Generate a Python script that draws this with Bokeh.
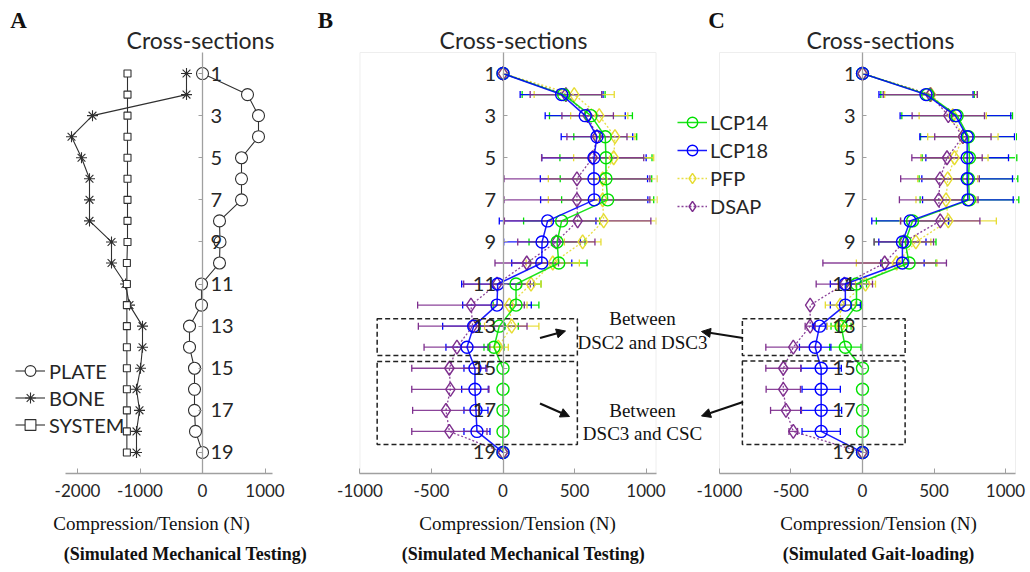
import numpy as np
from bokeh.plotting import figure
from bokeh.models import (Range1d, LinearAxis, FixedTicker, ColumnDataSource, Whisker,
                          TeeHead, Legend, LegendItem, Arrow, NormalHead)
from bokeh.core.properties import value
from bokeh.embed import file_html
from bokeh.resources import INLINE

NaN = float("nan")

# ---------------- data ----------------
sections = list(range(1, 20))
section_ticks = list(range(1, 20, 2))

# Panel A: force per cross-section (N), simulated mechanical testing
plate = [0, 720, 896, 896, 624, 624, 624, 272, 280, 272, -16, -16, -208, -208, -128, -128, -128, -112, 0]
bone = [-256, -256, -1760, -2096, -1936, -1808, -1808, -1808, -1456, -1456, -1232, -1168,
        -960, -960, -992, -1056, -1008, -1056, -1056]
system = [-1200, -1200, -1200, -1200, -1200, -1200, -1200, -1200, -1200, -1210,
          -1210, -1210, -1210, -1210, -1210, -1210, -1210, -1210, -1210]
a_ticks = [-2000, -1000, 0, 1000]
a_tick_labels = ["-2000", "-1000", "0", "1000"]

# Panel B: simulated mechanical testing, mean and SD (N)
b_lcp14 = [0, 424, 615, 715, 720, 720, 732, 410, 378, 390, 91, 91, -26, -63, 0, 0, 0, 0, 0]
b_lcp14_sd = [0, 290, 290, 220, 322, 320, 322, 266, 196, 198, 175, 160, 133, 70, 0, 0, 0, 0, 0]
b_lcp18 = [0, 410, 575, 657, 636, 636, 638, 312, 273, 271, -37, -42, -205, -252, -196, -196, -189, -182, 0]
b_lcp18_sd = [0, 290, 280, 250, 365, 375, 375, 338, 268, 210, 252, 240, 217, 147, 77, 93, 84, 91, 0]
b_pfp = [0, 498, 673, 783, 774, 697, 697, 704, 557, 348, 196, 44, 61, -33, NaN, NaN, NaN, NaN, 0]
b_pfp_sd = [0, 280, 200, 140, 280, 380, 380, 366, 128, 186, 70, 124, 190, 70, NaN, NaN, NaN, NaN, 0]
b_dsap = [0, 440, 592, 657, 627, 517, 517, 522, 373, 166, -42, -224, -212, -322, -375, -368, -399, -375, 0]
b_dsap_sd = [0, 250, 180, 210, 357, 510, 510, 512, 270, 222, 233, 373, 380, 230, 263, 270, 233, 263, 0]

# Panel C: simulated gait-loading, mean and SD (N)
c_lcp14 = [0, 455, 662, 741, 748, 741, 748, 350, 298, 326, -42, -42, -150, -120, 0, 0, 0, 0, 0]
c_lcp14_sd = [0, 327, 387, 335, 331, 345, 345, 253, 216, 188, 70, 35, 70, 110, 0, 0, 0, 0, 0]
c_lcp18 = [0, 444, 650, 732, 732, 732, 737, 333, 279, 279, -120, -120, -300, -331, -289, -289, -289, -289, 0]
c_lcp18_sd = [0, 329, 387, 331, 289, 317, 317, 268, 165, 152, 105, 105, 50, 110, 141, 134, 143, 134, 0]
c_pfp = [0, 479, 631, 702, 643, 596, 584, 600, 373, 239, 21, -155, -155, NaN, NaN, NaN, NaN, NaN, 0]
c_pfp_sd = [0, 324, 235, 246, 235, 210, 210, 336, 105, 282, 70, 105, 92, NaN, NaN, NaN, NaN, NaN, 0]
c_dsap = [0, 474, 600, 702, 591, 542, 533, 544, 289, 155, -127, -366, -366, -484, -554, -554, -535, -484, 0]
c_dsap_sd = [0, 329, 253, 197, 246, 275, 275, 277, 208, 432, 197, 0, 35, 192, 122, 120, 108, 30, 0]

bc_ticks = [-1000, -500, 0, 500, 1000]
bc_tick_labels = ["-1000", "-500", "0", "500", "1000"]

series_names = ["LCP14", "LCP18", "PFP", "DSAP"]
panel_a_names = ["PLATE", "BONE", "SYSTEM"]

# regions between the discs (N, cross-section)
b_boxes = [(-880, 520, 12.65, 14.4), (-880, 520, 14.68, 18.62)]
c_boxes = [(-840, 298, 12.65, 14.4), (-840, 298, 14.65, 18.62)]
notes = [("Between", "DSC2 and DSC3"), ("Between", "DSC3 and CSC")]

# ---------------- figure ----------------
W, H = 1030, 572
p = figure(width=W, height=H, x_range=Range1d(0, W), y_range=Range1d(H, 0),
           x_axis_location=None, y_axis_location=None, min_border=0,
           output_backend="svg", toolbar_location=None, outline_line_color=None)
p.grid.visible = False
p.background_fill_color = "white"
p.border_fill_color = "white"

SEC0, SEC_PX = 52.0, 21.05          # pixel row of section 0, pixels per section
p.extra_y_ranges = {"sec": Range1d(start=(H - SEC0) / SEC_PX, end=-SEC0 / SEC_PX)}


def panel_range(origin_px, n_per_px):
    return Range1d(-origin_px * n_per_px, (W - origin_px) * n_per_px)


p.extra_x_ranges = {"A": panel_range(202, 16.0),
                    "B": panel_range(502.5, 6.993),
                    "C": panel_range(862, 6.993)}

AX = "#a0a0a0"
TXT = "#262626"
SANS = "Lato"
SERIF = "Liberation Serif"


def add_x_axis(name, ticks, labels, bounds):
    ax = LinearAxis(x_range_name=name, y_range_name="sec", fixed_location=20, bounds=bounds,
                    ticker=FixedTicker(ticks=ticks),
                    major_label_overrides={t: l for t, l in zip(ticks, labels)},
                    axis_line_color=AX, axis_line_width=1.3,
                    major_tick_line_color=AX, major_tick_in=5, major_tick_out=0,
                    minor_tick_line_color=None, major_label_standoff=10,
                    major_label_text_font=SANS, major_label_text_font_size="17px",
                    major_label_text_color=TXT)
    p.add_layout(ax, "below")


def add_y_axis(name, side, standoff):
    ay = LinearAxis(x_range_name=name, y_range_name="sec", fixed_location=0, bounds=(0, 20),
                    ticker=FixedTicker(ticks=section_ticks),
                    axis_line_color=AX, axis_line_width=1.3,
                    major_tick_line_color=AX, major_tick_in=4, major_tick_out=0,
                    minor_tick_line_color=None, major_label_standoff=standoff,
                    major_label_text_font=SANS, major_label_text_font_size="20px",
                    major_label_text_color=TXT)
    p.add_layout(ay, side)


add_x_axis("A", a_ticks, a_tick_labels, (-2200, 1120))
add_x_axis("B", bc_ticks, bc_tick_labels, (-1000, 1070))
add_x_axis("C", bc_ticks, bc_tick_labels, (-1000, 1070))
add_y_axis("A", "right", 8)
add_y_axis("B", "left", 7)
add_y_axis("C", "left", 7)

# light frame of panels B and C
for name in ("B", "C"):
    p.quad(left=[-1000], right=[1070], top=[0], bottom=[20], fill_color=None,
           line_color="#eeeeee", line_width=1, x_range_name=name, y_range_name="sec")

# ---------------- panel A ----------------
kw = dict(x_range_name="A", y_range_name="sec")
a_items = []
for vals, marker, size in ((plate, "circle", 12), (bone, "asterisk", 11), (system, "square", 7)):
    ln = p.line(vals, sections, line_color="#303030", line_width=1.1, **kw)
    sc = p.scatter(vals, sections, marker=marker, size=size, fill_color="white",
                   line_color="#303030", line_width=1.1, **kw)
    a_items.append((ln, sc))

legA = Legend(items=[LegendItem(label=n, renderers=list(r)) for n, r in zip(panel_a_names, a_items)],
              location=(15, 134), glyph_width=30, glyph_height=27, label_height=27, spacing=0,
              padding=0, margin=0, label_standoff=4, border_line_color=None,
              background_fill_alpha=0, label_text_font=SANS, label_text_font_size="20px",
              label_text_color=TXT)
p.add_layout(legA)

# ---------------- panels B and C ----------------
GREEN, BLUE, YELLOW, PURPLE = "#00E000", "#0000FF", "#E6DC32", "#7E2F8E"
styles = {
    "LCP14": dict(color=GREEN, marker="circle", size=12, dash="solid", width=1.5),
    "LCP18": dict(color=BLUE, marker="circle", size=12, dash="solid", width=1.5),
    "PFP": dict(color=YELLOW, marker="diamond", size=14, dash="2 2", width=1.3),
    "DSAP": dict(color=PURPLE, marker="diamond", size=14, dash="2 2", width=1.3),
}
draw_order = ["PFP", "DSAP", "LCP14", "LCP18"]
bar_order = ["LCP14", "LCP18", "PFP", "DSAP"]


def draw_panel(name, data):
    kw = dict(x_range_name=name, y_range_name="sec")
    rends = {}
    for s in draw_order:
        st = styles[s]
        mean = np.array(data[s][0], dtype=float)
        ln = p.line(mean, sections, line_color=st["color"], line_width=st["width"],
                    line_dash=st["dash"], line_alpha=0.9, **kw)
        sc = p.scatter(mean, sections, marker=st["marker"], size=st["size"], fill_color=None,
                       line_color=st["color"], line_width=1.4, **kw)
        rends[s] = (ln, sc)
    for s in bar_order:
        st = styles[s]
        mean = np.array(data[s][0], dtype=float)
        sd = np.array(data[s][1], dtype=float)
        keep = np.isfinite(sd) & (sd > 0)
        src = ColumnDataSource(dict(base=np.array(sections, dtype=float)[keep],
                                    lower=(mean - sd)[keep], upper=(mean + sd)[keep]))
        w = Whisker(source=src, base="base", lower="lower", upper="upper", dimension="width",
                    line_color=st["color"], line_width=1.3, line_alpha=0.9,
                    upper_head=TeeHead(size=7, line_color=st["color"], line_width=1.3),
                    lower_head=TeeHead(size=7, line_color=st["color"], line_width=1.3), **kw)
        p.add_layout(w)
    return rends


b_data = {"LCP14": (b_lcp14, b_lcp14_sd), "LCP18": (b_lcp18, b_lcp18_sd),
          "PFP": (b_pfp, b_pfp_sd), "DSAP": (b_dsap, b_dsap_sd)}
c_data = {"LCP14": (c_lcp14, c_lcp14_sd), "LCP18": (c_lcp18, c_lcp18_sd),
          "PFP": (c_pfp, c_pfp_sd), "DSAP": (c_dsap, c_dsap_sd)}
b_rends = draw_panel("B", b_data)
draw_panel("C", c_data)

legB = Legend(items=[LegendItem(label=s, renderers=list(b_rends[s])) for s in series_names],
              location=(677, 353), glyph_width=30, glyph_height=26, label_height=26, spacing=2,
              padding=0, margin=0, label_standoff=3, border_line_color=None,
              background_fill_alpha=0, label_text_font=SANS, label_text_font_size="20px",
              label_text_color=TXT)
p.add_layout(legB)

# dashed regions
for name, boxes in (("B", b_boxes), ("C", c_boxes)):
    l, r, t, b = zip(*boxes)
    p.quad(left=list(l), right=list(r), top=list(t), bottom=list(b), fill_color=None,
           line_color="#222222", line_width=1.5, line_dash="5 3",
           x_range_name=name, y_range_name="sec")

# arrows from the regions to their notes
arrow_segments = [(539.5, 337.5, 565, 330.5), (539.5, 403, 569, 416),
                  (742.5, 337.5, 701, 331), (742.5, 401.5, 701, 415.5)]
for x0, y0, x1, y1 in arrow_segments:
    p.add_layout(Arrow(x_start=x0, y_start=y0, x_end=x1, y_end=y1, line_color="#111111",
                       line_width=2.2,
                       end=NormalHead(size=9, fill_color="#111111", line_color="#111111")))

# ---------------- texts ----------------
p.text(x=[18, 325, 716], y=[20, 20, 20], text=["A", "B", "C"], text_font=value(SERIF),
       text_font_style="bold", text_font_size="23px", text_align="center",
       text_baseline="middle", text_color="#111111")
p.text(x=[200, 513, 880], y=[39, 39, 39], text=["Cross-sections"] * 3, text_font=value(SANS),
       text_font_size="23px", text_align="center", text_baseline="middle", text_color=TXT)
p.text(x=[151, 517, 878], y=[523, 523, 523], text=["Compression/Tension (N)"] * 3,
       text_font=value(SERIF), text_font_size="19px", text_align="center",
       text_baseline="middle", text_color="#111111")
p.text(x=[185, 523, 878], y=[553, 553, 553],
       text=["(Simulated Mechanical Testing)", "(Simulated Mechanical Testing)",
             "(Simulated Gait-loading)"],
       text_font=value(SERIF), text_font_style="bold", text_font_size="18px",
       text_align="center", text_baseline="middle", text_color="#111111")
p.text(x=[642, 642, 642, 642], y=[318, 341.5, 410, 433],
       text=[notes[0][0], notes[0][1], notes[1][0], notes[1][1]],
       text_font=value(SERIF), text_font_size="19px", text_align="center",
       text_baseline="middle", text_color="#111111")

open("out.html", "w").write(file_html(p, INLINE))
